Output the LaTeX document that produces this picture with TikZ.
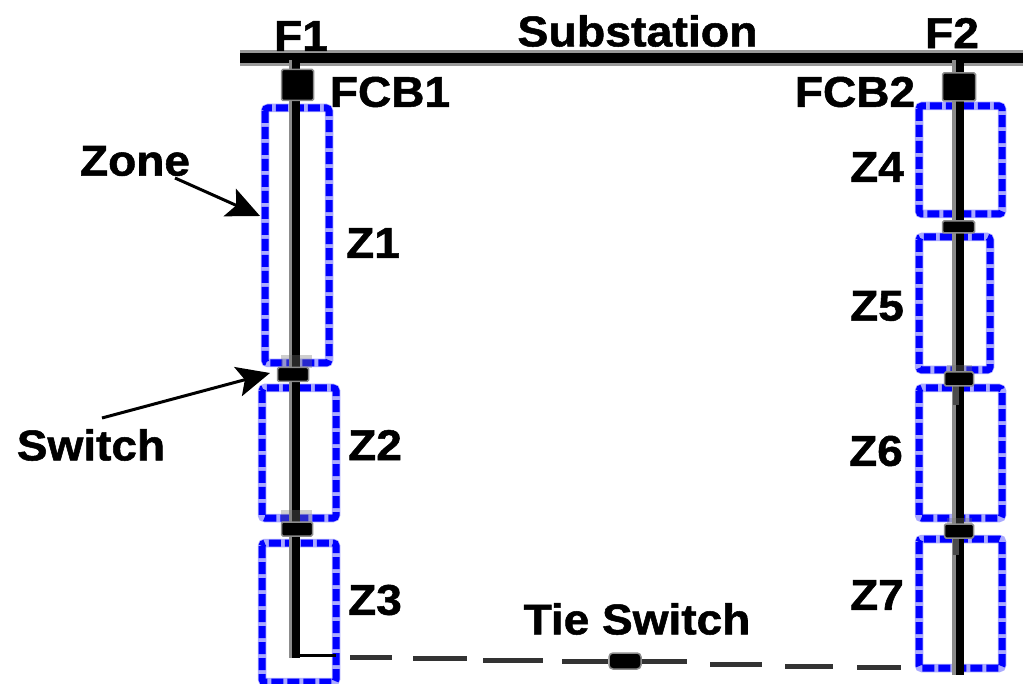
\documentclass[tikz,border=0pt]{standalone}
\usepackage{fontspec}
\setmainfont{Liberation Sans}[BoldFeatures={FakeBold=1.2}]
\usetikzlibrary{arrows.meta}
\definecolor{zoneblue}{RGB}{0,0,255}
\definecolor{zonelight}{RGB}{170,170,255}
\tikzset{
 lab/.style={font=\fontsize{43}{43}\selectfont\bfseries,inner sep=0pt,anchor=center,xscale=1.07},
 zoneunder/.style={draw=zonelight,line width=8.5pt,rounded corners=3pt},
 zone/.style={draw=zoneblue,line width=7pt,dash pattern=on 12pt off 4pt,rounded corners=3pt},
 feeder/.style={draw=black,line width=7.5pt},
 shade/.style={draw=black!45,line width=6pt},
 sw/.style={fill=black,draw=black!45,line width=1.5pt,inner sep=0pt,rounded corners=1.5pt},
 swblur/.style={fill=black!55,opacity=.35},
 call/.style={draw=black,line width=3pt,-{Stealth[length=33pt,width=30pt,inset=7pt]}},
 tie/.style={draw=black!80,line width=5pt}
}
\begin{document}
\begin{tikzpicture}[x=1pt,y=-1pt]
\useasboundingbox (0,0) rectangle (1026,684);
% bus
\fill[black!40] (240,50) rectangle (1023,66);
\coordinate (busL) at (240,58);
\coordinate (busR) at (1023,58);
\draw[black,line width=10pt] (busL) -- (busR);
% zones
\foreach \a/\b/\c/\d in {265/108/329/363,262/388/336/518,262/543/336/682,919/106/1002/214,919/237/990/370,919/388/1002/518,919/539/1002/668}{
 \draw[zoneunder] (\a,\b) rectangle (\c,\d);
 \draw[zone] (\a,\b) rectangle (\c,\d);
}
% coordinates
\coordinate (f1t) at (296,60);
\coordinate (f1b) at (296,658);
\coordinate (f1c) at (296,655);
\coordinate (f1e) at (336,655);
\coordinate (f2t) at (960,60);
\coordinate (f2b) at (960,675);
% feeders
\draw[shade] ([xshift=-4pt]f1t) -- ([xshift=-4pt]f1b);
\draw[shade] ([xshift=-5pt]f2t) -- ([xshift=-5pt]f2b);
\draw[feeder] (f1t) -- (f1b);
\draw[feeder] (f2t) -- (f2b);
\draw[black,line width=3pt] (f1c) -- (f1e);
% blur above switches
\fill[swblur] (281,355) rectangle (312,368);
\fill[swblur] (281,510) rectangle (312,523);
\fill[swblur] (947,365) rectangle (972,375);
\fill[swblur] (947,518) rectangle (972,527);
\fill[black!70] (953,385) rectangle (959,405);
\fill[black!70] (953,537) rectangle (959,555);
% breakers and switches
\node[sw,minimum width=32pt,minimum height=31pt] (fcb1) at (297.5,85) {};
\node[sw,minimum width=33pt,minimum height=28pt] (fcb2) at (959,87) {};
\node[sw,minimum width=31pt,minimum height=14pt] (s1) at (293,374.5) {};
\node[sw,minimum width=31pt,minimum height=14pt] (s2) at (297,529) {};
\node[sw,minimum width=32pt,minimum height=12pt] (s3) at (958.5,227) {};
\node[sw,minimum width=29pt,minimum height=14pt] (s4) at (959,379) {};
\node[sw,minimum width=29pt,minimum height=14pt] (s5) at (959,531) {};
\node[sw,minimum width=32pt,minimum height=16pt,rounded corners=4pt] (ts) at (625,661) {};
% tie line dashes
\coordinate (d1a) at (350,657); \coordinate (d1b) at (392,657);
\coordinate (d2a) at (413,658); \coordinate (d2b) at (467,658);
\coordinate (d3a) at (483,660); \coordinate (d3b) at (543,660);
\coordinate (d4a) at (562,661);
\coordinate (d5b) at (687,661);
\coordinate (d6a) at (710,664.5); \coordinate (d6b) at (762,664.5);
\coordinate (d8a) at (785,666); \coordinate (d8b) at (833,666);
\coordinate (d9a) at (857,667); \coordinate (d9b) at (901,667);
\draw[tie] (d1a)--(d1b);
\draw[tie] (d2a)--(d2b);
\draw[tie] (d3a)--(d3b);
\draw[tie] (d4a)--(ts);
\draw[tie] (ts)--(d5b);
\draw[tie] (d6a)--(d6b);
\draw[tie] (d8a)--(d8b);
\draw[tie] (d9a)--(d9b);
% labels
\node[lab] (lF1) at (301,36) {F1};
\node[lab] (lF2) at (952,33) {F2};
\node[lab,xscale=1.01] (lSub) at (637.5,31) {Substation};
\node[lab] (lFCB1) at (390,92) {FCB1};
\node[lab] (lFCB2) at (855,92) {FCB2};
\node[lab] (lZone) at (135,161) {Zone};
\node[lab] (lSwitch) at (91,445) {Switch};
\node[lab] (lZ1) at (373,243) {Z1};
\node[lab] (lZ2) at (375,445) {Z2};
\node[lab] (lZ3) at (375,600) {Z3};
\node[lab] (lZ4) at (877,167) {Z4};
\node[lab] (lZ5) at (877,306) {Z5};
\node[lab] (lZ6) at (876,451) {Z6};
\node[lab] (lZ7) at (877,595) {Z7};
\node[lab] (lTie) at (637,619) {Tie Switch};
% callouts
\coordinate (zs) at (175,178);
\coordinate (zt) at (260,216);
\coordinate (ss) at (102,418);
\coordinate (st) at (270,373);
\draw[call] (zs) -- (zt);
\draw[call] (ss) -- (st);
\end{tikzpicture}
\end{document}
